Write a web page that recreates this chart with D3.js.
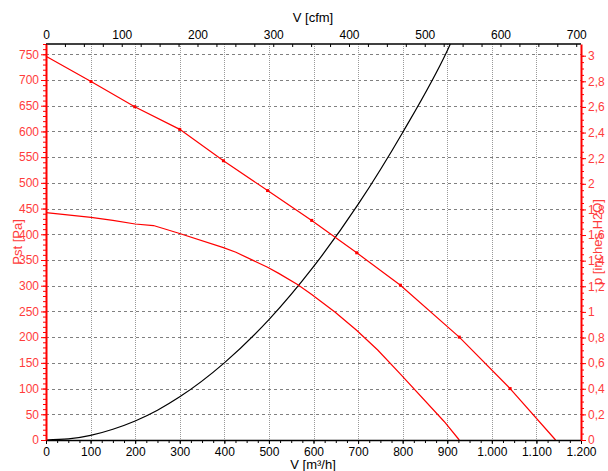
<!DOCTYPE html>
<html>
<head>
<meta charset="utf-8">
<script src="https://cdn.jsdelivr.net/npm/d3@7"></script>
<style>
  body { margin: 0; background: #fff; }
  svg { font-family: "Liberation Sans", Arial, sans-serif; }
</style>
</head>
<body>
<svg id="svg" width="608" height="471"></svg>
<script>
// flow in m3/h, pressure in Pa
var sysV  = [0, 50, 100, 150, 200, 250, 300, 400, 500, 600, 700, 800, 900, 907];
var sysP  = [0, 2, 9, 21, 37, 58, 84, 150, 234, 337, 458, 598, 757, 770];

var hiV   = [0, 101, 199, 300, 398, 497, 596, 697, 795, 927, 1041, 1143];
var hiP   = [746, 697, 648, 604, 543, 485, 427, 364, 301, 200, 100, 0];
var hiMarks = [1, 2, 3, 4, 5, 6, 7, 8, 9, 10];

var loV   = [0, 101, 150, 200, 241, 298, 398, 426, 497, 522, 565, 596, 648, 696, 744, 795, 893, 927];
var loP   = [442, 433, 427, 420, 417, 402, 374, 365, 336, 324, 302, 283, 249, 214, 175, 128, 36, 0];

var vTicks   = [0, 100, 200, 300, 400, 500, 600, 700, 800, 900, 1000, 1100, 1200];
var cfmTicks = [0, 100, 200, 300, 400, 500, 600, 700];
var paTicks  = [0, 50, 100, 150, 200, 250, 300, 350, 400, 450, 500, 550, 600, 650, 700, 750];
var inTicks  = [0, 0.2, 0.4, 0.6, 0.8, 1, 1.2, 1.4, 1.6, 1.8, 2, 2.2, 2.4, 2.6, 2.8, 3];

var CFM = 1.699;      // m3/h per cfm
var INH2O = 249.09;   // Pa per inch H2O

var svg = d3.select("#svg");
var pl = 46, pr = 581, pt = 44, pb = 440;
var pMax = 770;

var x = d3.scaleLinear().domain([0, 1200]).range([pl, pr]);
var xc = d3.scaleLinear().domain([0, 1200 / CFM]).range([pl, pr]);
var y = d3.scaleLinear().domain([0, pMax]).range([pb, pt]);
var yi = d3.scaleLinear().domain([0, pMax / INH2O]).range([pb, pt]);

// grid
svg.append("g").selectAll("line").data(paTicks.slice(1)).enter().append("line")
  .attr("x1", pl).attr("x2", pr)
  .attr("y1", function(d) { return Math.round(y(d)) + 0.5; })
  .attr("y2", function(d) { return Math.round(y(d)) + 0.5; })
  .attr("stroke", "#808080").attr("stroke-dasharray", "3,3");
svg.append("g").selectAll("line").data(vTicks.slice(1, -1)).enter().append("line")
  .attr("x1", function(d) { return Math.round(x(d)) + 0.5; })
  .attr("x2", function(d) { return Math.round(x(d)) + 0.5; })
  .attr("y1", pt).attr("y2", pb)
  .attr("stroke", "#999").attr("stroke-dasharray", "1,1");

// curves
var line = d3.line().curve(d3.curveMonotoneX);
function pts(vs, ps) { return vs.map(function(v, i) { return [x(v), y(ps[i])]; }); }

svg.append("path").attr("d", line(pts(sysV, sysP)))
  .attr("fill", "none").attr("stroke", "#000").attr("stroke-width", 1.2);
svg.append("path").attr("d", d3.line()(pts(loV, loP)))
  .attr("fill", "none").attr("stroke", "red").attr("stroke-width", 1.2);
svg.append("path").attr("d", d3.line()(pts(hiV, hiP)))
  .attr("fill", "none").attr("stroke", "red").attr("stroke-width", 1.2);
svg.append("g").selectAll("rect").data(hiMarks).enter().append("rect")
  .attr("x", function(i) { return x(hiV[i]) - 1.5; })
  .attr("y", function(i) { return y(hiP[i]) - 1.5; })
  .attr("width", 3).attr("height", 3).attr("fill", "red");

// axes
function styleAxis(g, color) {
  g.selectAll("path").attr("stroke", color);
  g.selectAll("line").attr("stroke", color);
  g.selectAll("text").attr("fill", color).attr("font-size", 12)
    .attr("font-family", "Liberation Sans, Arial, sans-serif");
}
function minor(g, axis) {
  g.call(axis.tickFormat("").tickSize(3));
  g.select("path").remove();
}

var gb = svg.append("g").attr("transform", "translate(0," + pb + ")");
minor(gb.append("g"), d3.axisBottom(x).tickValues(d3.range(0, 1201, 25)));
gb.append("g").call(d3.axisBottom(x).tickValues(vTicks).tickSize(4).tickSizeOuter(0)
  .tickFormat(function(d) { return d3.format(",")(d).replace(/,/g, "."); }));
styleAxis(gb, "#000");
gb.selectAll("path").attr("stroke-width", 1.5);

var gt = svg.append("g").attr("transform", "translate(0," + pt + ")");
minor(gt.append("g"), d3.axisBottom(xc).tickValues(d3.range(0, 706, 25)));
gt.append("g").call(d3.axisTop(xc).tickValues(cfmTicks).tickSize(0).tickSizeOuter(0).tickPadding(5));
styleAxis(gt, "#000");
gt.selectAll("path").attr("stroke", "none");
gt.append("line").attr("x1", pl).attr("x2", pr)
  .attr("stroke", "#000").attr("stroke-width", 1.5);

var gl = svg.append("g").attr("transform", "translate(" + pl + ",0)");
minor(gl.append("g"), d3.axisLeft(y).tickValues(d3.range(0, 771, 10)));
gl.append("g").call(d3.axisLeft(y).tickValues(paTicks).tickSize(5).tickSizeOuter(0).tickPadding(2));
styleAxis(gl, "red");
gl.selectAll("text").attr("fill", "#ff3c3c");
gl.selectAll("path").attr("stroke-width", 2);

var gr = svg.append("g").attr("transform", "translate(" + pr + ",0)");
minor(gr.append("g"), d3.axisRight(yi).tickValues(d3.range(0, 3.05, 0.05)));
gr.append("g").call(d3.axisRight(yi).tickValues(inTicks).tickSize(5).tickSizeOuter(0).tickPadding(2)
  .tickFormat(function(d) { return String(+d.toFixed(1)).replace(".", ","); }));
styleAxis(gr, "red");
gr.selectAll("text").attr("fill", "#ff3c3c");
gr.selectAll("path").attr("stroke-width", 2);

// titles
svg.append("text").attr("x", 313).attr("y", 22).attr("text-anchor", "middle")
  .attr("font-size", 13).text("V [cfm]");
svg.append("text").attr("x", 313).attr("y", 469).attr("text-anchor", "middle")
  .attr("font-size", 13).text("V [m³/h]");
svg.append("text").attr("transform", "translate(22,242) rotate(-90)").attr("text-anchor", "middle")
  .attr("font-size", 13).attr("fill", "#ff3c3c").text("Pst [Pa]");
svg.append("text").attr("transform", "translate(602,242) rotate(-90)").attr("text-anchor", "middle")
  .attr("font-size", 13).attr("fill", "#ff3c3c").text("p [inches H2O]");
</script>
</body>
</html>
